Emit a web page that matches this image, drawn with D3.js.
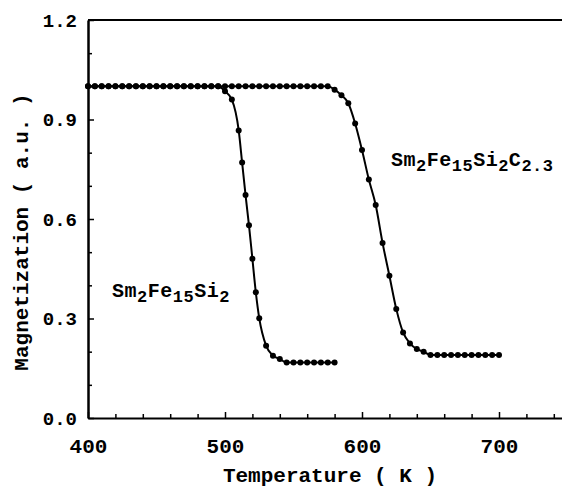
<!DOCTYPE html>
<html>
<head>
<meta charset="utf-8">
<script src="https://cdn.jsdelivr.net/npm/d3@7"></script>
<style>
  html, body { margin: 0; padding: 0; background: #fff; }
  svg { display: block; }
  text { font-family: "Liberation Mono", "DejaVu Sans Mono", monospace; fill: #000; }
</style>
</head>
<body>
<svg id="chart" width="562" height="490"></svg>
<script>
// ---- data ----
const tempSi = [400,405,410,415,420,425,430,435,440,445,450,455,460,465,470,475,480,485,490,495,
  500,505,510,512.5,515,517.5,520,522.5,525,530,535,540,545,550,555,560,565,570,575,580];
const magSi = [1,1,1,1,1,1,1,1,1,1,1,1,1,1,1,1,1,1,1,1,
  0.985,0.960,0.867,0.770,0.672,0.581,0.480,0.379,0.301,0.218,0.188,0.178,0.167,0.167,0.167,0.167,0.167,0.167,0.167,0.167];

const tempSiC = [400,405,410,415,420,425,430,435,440,445,450,455,460,465,470,475,480,485,490,495,
  500,505,510,515,520,525,530,535,540,545,550,555,560,565,570,575,
  580,585,590,595,600,605,610,615,620,625,630,635,640,645,
  650,655,660,665,670,675,680,685,690,695,700];
const magSiC = [1,1,1,1,1,1,1,1,1,1,1,1,1,1,1,1,1,1,1,1,
  1,1,1,1,1,1,1,1,1,1,1,1,1,1,1,1,
  0.990,0.973,0.949,0.888,0.808,0.719,0.642,0.528,0.429,0.329,0.258,0.225,0.208,0.200,
  0.190,0.190,0.190,0.190,0.190,0.190,0.190,0.190,0.190,0.190,0.190];

const xMajor = [400,500,600,700];
const xMinor = [420,440,460,480,520,540,560,580,620,640,660,680,720,740];
const yMajor = [0.0,0.3,0.6,0.9,1.2];
const yMinor = [0.1,0.2,0.4,0.5,0.7,0.8,1.0,1.1];

const xTitle = "Temperature ( K )";
const yTitle = "Magnetization ( a.u. )";

// ---- drawing ----
const svg = d3.select("#chart");
const x = d3.scaleLinear().domain([400, 750]).range([88, 567.5]);
const y = d3.scaleLinear().domain([0, 1.2]).range([418, 20]);

const fontW = "bold";

// minor ticks
svg.append("g").attr("transform", `translate(0,${y(0)})`)
  .call(d3.axisBottom(x).tickValues(xMinor).tickSize(-4).tickFormat(""))
  .call(g => g.select(".domain").remove())
  .selectAll("line").attr("stroke-width", 1.5);
svg.append("g").attr("transform", `translate(${x(400)},0)`)
  .call(d3.axisLeft(y).tickValues(yMinor).tickSize(-4).tickFormat(""))
  .call(g => g.select(".domain").remove())
  .selectAll("line").attr("stroke-width", 1.5);

// major x axis
const gx = svg.append("g").attr("transform", `translate(0,${y(0)})`)
  .call(d3.axisBottom(x).tickValues(xMajor).tickSize(-6).tickSizeOuter(0).tickPadding(20).tickFormat(d3.format("d")));
gx.select(".domain").attr("stroke-width", 2);
gx.selectAll("line").attr("stroke-width", 1.5);
gx.selectAll("text").attr("font-size", 21).attr("font-weight", fontW)
  .style("font-family", '"Liberation Mono", monospace');

// major y axis
const gy = svg.append("g").attr("transform", `translate(${x(400)},0)`)
  .call(d3.axisLeft(y).tickValues(yMajor).tickSize(-6).tickSizeOuter(0).tickPadding(11).tickFormat(d3.format(".1f")));
gy.select(".domain").attr("stroke-width", 2.5);
gy.selectAll("line").attr("stroke-width", 1.5);
gy.selectAll("text").attr("font-size", 19).attr("font-weight", fontW)
  .style("font-family", '"Liberation Mono", monospace');

// top frame line
svg.append("line")
  .attr("x1", x(400)).attr("x2", x(750))
  .attr("y1", y(1.2)).attr("y2", y(1.2))
  .attr("stroke", "#000").attr("stroke-width", 2);

// curves
const line = d3.line().x(d => x(d[0])).y(d => y(d[1])).curve(d3.curveMonotoneX);
const seriesList = [d3.zip(tempSi, magSi), d3.zip(tempSiC, magSiC)];
seriesList.forEach(pts => {
  svg.append("path").datum(pts).attr("d", line)
    .attr("fill", "none").attr("stroke", "#000").attr("stroke-width", 2);
  svg.append("g").selectAll("circle").data(pts).join("circle")
    .attr("cx", d => x(d[0])).attr("cy", d => y(d[1])).attr("r", 3).attr("fill", "#000");
});

// formula labels
function formula(xp, yp, parts) {
  const t = svg.append("text").attr("x", xp).attr("y", yp)
    .attr("font-size", 20).attr("font-weight", fontW).attr("letter-spacing", 0.5);
  parts.forEach(p => {
    const sp = t.append("tspan").text(p[0]);
    if (p[1]) sp.attr("font-size", 17).attr("dy", 5);
    else sp.attr("dy", p[2] ? -5 : 0);
  });
}
formula(112, 297, [["Sm"],["2",1],["Fe",0,1],["15",1],["Si",0,1],["2",1]]);
formula(391, 166, [["Sm"],["2",1],["Fe",0,1],["15",1],["Si",0,1],["2",1],["C",0,1],["2.3",1]]);

// axis titles
svg.append("text").attr("x", 330).attr("y", 482).attr("text-anchor", "middle")
  .attr("font-size", 21).attr("font-weight", fontW).text(xTitle);
svg.append("text").attr("transform", "translate(28,232) rotate(-90)")
  .attr("text-anchor", "middle").attr("font-size", 21).attr("font-weight", fontW).text(yTitle);
</script>
</body>
</html>
